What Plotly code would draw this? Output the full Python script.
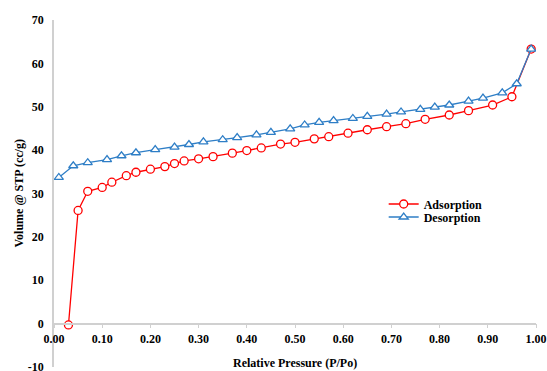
import plotly.graph_objects as go

ads_p = [0.03, 0.05, 0.07, 0.10, 0.12, 0.15, 0.17, 0.20, 0.23, 0.25, 0.27, 0.30, 0.33, 0.37, 0.40,
         0.43, 0.47, 0.50, 0.54, 0.57, 0.61, 0.65, 0.69, 0.73, 0.77, 0.82, 0.86, 0.91, 0.95, 0.99]
ads_v = [-0.3, 26.1, 30.5, 31.4, 32.6, 34.1, 34.9, 35.6, 36.2, 36.9, 37.5, 38.0, 38.5, 39.3, 39.9,
         40.5, 41.4, 41.8, 42.6, 43.1, 43.9, 44.7, 45.4, 46.1, 47.1, 48.1, 49.1, 50.4, 52.3, 63.3]

des_p = [0.01, 0.04, 0.07, 0.11, 0.14, 0.17, 0.21, 0.25, 0.28, 0.31, 0.35, 0.38, 0.42, 0.45, 0.49,
         0.52, 0.55, 0.58, 0.62, 0.65, 0.69, 0.72, 0.76, 0.79, 0.82, 0.86, 0.89, 0.93, 0.96, 0.99]
des_v = [33.7, 36.4, 37.1, 37.8, 38.7, 39.4, 40.1, 40.7, 41.3, 41.9, 42.4, 42.9, 43.5, 44.1, 44.9,
         45.8, 46.4, 46.8, 47.3, 47.8, 48.3, 48.8, 49.4, 49.9, 50.4, 51.3, 52.0, 53.2, 55.3, 63.3]

x_ticks = [0.0, 0.1, 0.2, 0.3, 0.4, 0.5, 0.6, 0.7, 0.8, 0.9, 1.0]
y_ticks = [-10, 0, 10, 20, 30, 40, 50, 60, 70]
y_ticklabels = ["-10", "0", "10", "20", "30", "40", "50", "60", "70"]

RED = "#FF0000"
BLUE = "#2E7EC6"
FONT = "Liberation Serif"
AX = "#D0D0D0"

fig = go.Figure()
fig.add_trace(go.Scatter(
    x=ads_p, y=ads_v, name="Adsorption", mode="lines+markers", legend="legend",
    line=dict(color=RED, width=1.3),
    marker=dict(symbol="circle", size=8, color="white", line=dict(color=RED, width=1.3)),
))
fig.add_trace(go.Scatter(
    x=des_p, y=des_v, name="Desorption", mode="lines+markers", legend="legend2",
    line=dict(color=BLUE, width=1.3),
    marker=dict(symbol="triangle-up", size=8, color="white", line=dict(color=BLUE, width=1.3)),
))

bold12 = dict(family=FONT, size=12, color="black", weight="bold")

def ypx(py):
    return (367 - py) / 347

fig.update_layout(
    width=547, height=371,
    margin=dict(l=54, r=11, t=20, b=4, autoexpand=False),
    paper_bgcolor="white", plot_bgcolor="white",
    font=bold12,
    showlegend=True,
    legend=dict(x=0.684, y=ypx(204), xanchor="left", yanchor="middle",
                font=bold12, bgcolor="rgba(0,0,0,0)"),
    legend2=dict(x=0.684, y=ypx(217), xanchor="left", yanchor="middle",
                 font=bold12, bgcolor="rgba(0,0,0,0)"),
    xaxis=dict(range=[0, 1], tickvals=x_ticks, tickformat=".2f",
               anchor="free", position=0.125, automargin=False,
               showline=True, linecolor=AX, linewidth=1.5,
               ticks="outside", ticklen=4, tickcolor=AX, tickwidth=1,
               showgrid=False, zeroline=False, ticklabeloverflow="allow",
               tickfont=bold12, ticklabelstandoff=0),
    yaxis=dict(range=[-10, 70], tickvals=y_ticks, ticktext=y_ticklabels,
               domain=[0, 1], automargin=False,
               showline=True, linecolor=AX, linewidth=1.5,
               ticks="", showgrid=False, zeroline=False, ticklabeloverflow="allow",
               tickfont=bold12, ticklabelstandoff=6),
    annotations=[
        dict(text="Relative Pressure (P/Po)", xref="paper", yref="paper",
             x=0.5, y=ypx(363), xanchor="center", yanchor="middle",
             showarrow=False, font=bold12),
        dict(text="Volume @ STP (cc/g)", xref="paper", yref="paper",
             x=(18 - 54) / 482, y=0.5, xanchor="center", yanchor="middle",
             textangle=-90, showarrow=False, font=bold12),
    ],
)

fig.write_html("out.html", config={"displayModeBar": False},
               post_script="document.body.style.margin='0px';document.body.style.overflow='hidden';")
